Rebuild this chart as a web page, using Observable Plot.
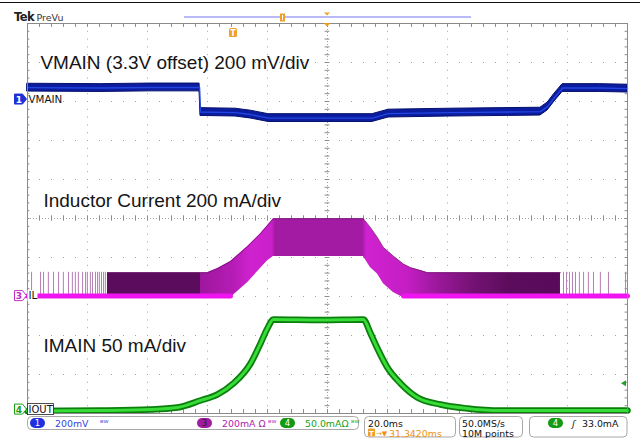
<!DOCTYPE html>
<html><head><meta charset="utf-8">
<script src="https://cdn.jsdelivr.net/npm/d3@7"></script>
<script src="https://cdn.jsdelivr.net/npm/@observablehq/plot@0.6"></script>
<style>
html,body{margin:0;padding:0;background:#fff;}
#wrap{position:relative;width:640px;height:438px;overflow:hidden;}
#wrap svg{position:absolute;left:0;top:0;}
</style></head><body><div id="wrap"></div>
<script>
// ---------------- data ----------------
// time in ms relative to the trigger; horizontal 20 ms/div; trigger → center 31.342 ms
const timePerDiv = 20;
const triggerToCenter = 31.342;

// Ch1 VMAIN (V), 200 mV/div, 3.3 V offset
const vT = [-68.66, -44.3, -27.7, -11.3, -11.0, 0.7, 5.7, 11.7, 46.3, 51.7, 72.3, 102.3, 104.7, 107.0, 109.7, 122.3, 131.34];
const vV = [3.361, 3.359, 3.362, 3.362, 3.236, 3.233, 3.223, 3.205, 3.205, 3.228, 3.233, 3.238, 3.264, 3.310, 3.359, 3.359, 3.356];

// Ch3 inductor current envelope (mA), 200 mA/div
const ilT  = [-42, -11, -8.7, -5.3, -1, 4.7, 9, 11.3, 13.3, 43.3, 45.7, 48, 50, 53.3, 56.7, 59, 62.3, 64.7, 109];
const ilHi = [120, 120, 120, 141, 177, 254, 320, 361, 397, 397, 351, 300, 249, 205, 164, 146, 131, 120, 120];
const ilLo = [-8, -8, -8, -8, -8, 69, 141, 180, 203, 203, 146, 113, 64, 18, -8, -8, -8, -8, -8];
// isolated switching bursts (light spikes) in the pulse-skipping regions
const ilSpikeT = [-67.3, -64.3, -63.3, -61.7, -60, -58.3, -56.7, -55, -53.7, -52.7, -51.7, -50.3, -49.3, -48.7, -47.7, -47, -46, -45.3, -44.7, -44, -43.3, -42.7,
                  110, 111, 112, 113, 114, 115.3, 116.7, 118.3, 120, 122.3, 125, 130.7];
const ilSpikeTop = 122;
// idle baseline segments (mA)
const ilBaseT = [[-68.66, -1], [56.7, 131.34]];
const ilBaseI = 0;

// Ch4 IOUT (mA), 50 mA/div
const ioT = [-68.66, -44.3, -27.7, -18.7, -11, -5.3, 0, 5.7, 9, 11.3, 13.3, 29, 43.3, 45.7, 48, 51.3, 55.7, 61.3, 69, 78, 89, 131.34];
const ioI = [-1.8, -1.2, 0.1, 2.7, 11.7, 19.4, 33.5, 59.1, 84.7, 104, 115.5, 114.9, 115.5, 97.6, 78.3, 54, 33.5, 15.5, 6.5, 1.4, -1.2, -1.2];
const triggerLevel = 33.0; // mA on ch4

const titles = ["VMAIN (3.3V offset) 200 mV/div", "Inductor Current 200 mA/div", "IMAIN 50 mA/div"];
const chLabels = ["VMAIN", "IL", "IOUT"];
const statusCh = [["1", "200mV"], ["3", "200mA Ω"], ["4", "50.0mAΩ"]];
const statusTime = ["20.0ms", "31.3420ms"];
const statusAcq = ["50.0MS/s", "10M points"];
const statusTrig = ["4", "33.0mA"];

// ---------------- channel set-up ----------------
const chan = {
  v:  {pos: 3.05,  perDiv: 0.2, offset: 3.3},
  il: {pos: -1.99, perDiv: 200, offset: 0},
  io: {pos: -4.9,  perDiv: 50,  offset: 0}
};
const toDiv = (c, v) => c.pos + (v - c.offset) / c.perDiv;

const center = triggerToCenter;
const xDomain = [center - 5 * timePerDiv, center + 5 * timePerDiv];
const majorT = d3.range(1, 10).filter(k => k !== 5).map(k => xDomain[0] + k * timePerDiv);
const majorD = [-4, -3, -2, -1, 1, 2, 3, 4];
const minorT = d3.range(0, 51).map(i => xDomain[0] + i * timePerDiv / 5);
const minorD = d3.range(0, 51).map(i => -5 + i * 0.2);

const vData = vT.map((t, i) => ({t, v: vV[i]}));
const ilData = ilT.map((t, i) => ({t, lo: ilLo[i], hi: ilHi[i]}));
const ioData = ioT.map((t, i) => ({t, i: ioI[i]}));
const baseData = ilBaseT.flatMap((seg, k) => seg.map(t => ({t, k, i: ilBaseI})));

const gridC = "#a3a3a3", tickC = "#8c8c8c";
const tickW = 0.8; // ms half length of ticks on vertical lines

const chart = Plot.plot({
  width: 640, height: 438,
  marginLeft: 27, marginRight: 13, marginTop: 23, marginBottom: 25,
  style: {fontFamily: "Liberation Sans", background: "white"},
  x: {domain: xDomain, axis: null},
  y: {domain: [-5, 5], axis: null},
  marks: [
    Plot.ruleX(majorT, {stroke: gridC, strokeDasharray: "1,6.8"}),
    Plot.ruleY(majorD, {stroke: gridC, strokeDasharray: "1,11"}),
    Plot.ruleX([center], {stroke: gridC, strokeDasharray: "1,2"}),
    Plot.ruleY([0], {stroke: gridC, strokeDasharray: "1,2"}),
    Plot.ruleX(minorT, {y1: -0.07, y2: 0.07, stroke: tickC}),
    Plot.ruleY(minorD, {x1: center - tickW, x2: center + tickW, stroke: tickC}),
    Plot.ruleX(minorT, {y1: 5, y2: 4.9, stroke: tickC}),
    Plot.ruleX(minorT, {y1: -5, y2: -4.9, stroke: tickC}),
    Plot.ruleY(minorD, {x1: xDomain[0], x2: xDomain[0] + tickW, stroke: tickC}),
    Plot.ruleY(minorD, {x1: xDomain[1] - tickW, x2: xDomain[1], stroke: tickC}),

    // Ch1 VMAIN
    Plot.areaY(vData, {x: "t", y1: d => toDiv(chan.v, d.v - 0.02), y2: d => toDiv(chan.v, d.v + 0.02),
      fill: "#0b1c9e", stroke: "#04106c", strokeWidth: 1}),
    Plot.line(vData, {x: "t", y: d => toDiv(chan.v, d.v), stroke: "#2246e2", strokeWidth: 1.4}),

    // Ch3 IL
    Plot.ruleX(ilSpikeT, {x: d => d, y1: toDiv(chan.il, 0), y2: toDiv(chan.il, ilSpikeTop), stroke: "#b57db5", strokeWidth: 1}),
    Plot.areaY(ilData, {x: "t", y1: d => toDiv(chan.il, d.lo), y2: d => toDiv(chan.il, d.hi), fill: "url(#ilg)"}),
    Plot.line(ilData, {x: "t", y: d => toDiv(chan.il, d.hi), stroke: "#6e106e", strokeWidth: 1, strokeOpacity: 0.7}),
    Plot.line(baseData, {x: "t", y: d => toDiv(chan.il, d.i), z: "k", stroke: "#f014f0", strokeWidth: 5}),

    // Ch4 IOUT
    Plot.line(ioData, {x: "t", y: d => toDiv(chan.io, d.i), stroke: "#0b7e0b", strokeWidth: 6.5, curve: "monotone-x"}),
    Plot.line(ioData, {x: "t", y: d => toDiv(chan.io, d.i), stroke: "#38dc38", strokeWidth: 3, curve: "monotone-x"}),

    // annotations
    Plot.text([titles[0]], {x: xDomain[0] + 4.3, y: 4.0, text: d => d, textAnchor: "start", lineAnchor: "middle", fontSize: 19, fill: "#151515"}),
    Plot.text([titles[1]], {x: xDomain[0] + 5.3, y: 0.44, text: d => d, textAnchor: "start", lineAnchor: "middle", fontSize: 19, fill: "#151515"}),
    Plot.text([titles[2]], {x: xDomain[0] + 5.3, y: -3.26, text: d => d, textAnchor: "start", lineAnchor: "middle", fontSize: 19, fill: "#151515"}),

    Plot.frame({stroke: "#8a8a8a"})
  ]
});
document.getElementById("wrap").appendChild(chart);

const xs = chart.scale("x"), ys = chart.scale("y");
const X = t => xs.apply(t), Y = d => ys.apply(d);
const sel = d3.select(chart);

// gradient for inductor current persistence
const ilStops = [[-42,"#5c0c5c"],[-11.05,"#5c0c5c"],[-11,"#9e179e"],[0,"#b51cb5"],[6,"#d022d0"],[13,"#c820c8"],[14,"#a31aa3"],[43,"#a31aa3"],[44.5,"#d022d0"],[58,"#c41ec4"],[68,"#9c189c"],[80,"#741274"],[92,"#5c0c5c"],[109,"#5a0a5a"]];
const t0 = ilT[0], t1 = ilT[ilT.length - 1];
const grad = sel.insert("defs", ":first-child").append("linearGradient").attr("id", "ilg")
  .attr("gradientUnits", "userSpaceOnUse").attr("x1", X(t0)).attr("x2", X(t1)).attr("y1", 0).attr("y2", 0);
ilStops.forEach(([t, c]) => grad.append("stop").attr("offset", (t - t0) / (t1 - t0)).attr("stop-color", c));

const ui = sel.append("g").attr("font-family", "DejaVu Sans").attr("text-anchor", "start").attr("font-weight", "normal");
const gRight = X(xDomain[1]), gTop = Y(5);

// top border line and header
ui.append("line").attr("x1", 0).attr("x2", 640).attr("y1", 2.5).attr("y2", 2.5).attr("stroke", "#111").attr("stroke-width", 1.2);
ui.append("text").attr("x", 14).attr("y", 21).attr("font-size", 11.5).attr("font-weight", "bold").attr("letter-spacing", -0.6).attr("fill", "#222").text("Tek");
ui.append("text").attr("x", 36.5).attr("y", 21).attr("font-size", 9.5).attr("fill", "#333").text("PreVu");
ui.append("line").attr("x1", 184).attr("x2", 471).attr("y1", 17).attr("y2", 17).attr("stroke", "#7474f0").attr("stroke-width", 1);
ui.append("rect").attr("x", 280).attr("y", 13.5).attr("width", 5).attr("height", 8).attr("fill", "#f0a028");
ui.append("line").attr("x1", 282.5).attr("x2", 282.5).attr("y1", 15).attr("y2", 20).attr("stroke", "#fff").attr("stroke-width", 1);
ui.append("path").attr("d", `M${X(center)-3},12.5 h6 l-3,3 z`).attr("fill", "#f0a028");
// center marker on top of graticule
ui.append("path").attr("d", `M${X(center)-3.5},${gTop} h7 l-3.5,3.5 z`).attr("fill", "#f09a20");
// trigger marker
ui.append("rect").attr("x", X(0) - 4).attr("y", gTop + 5).attr("width", 8).attr("height", 9).attr("rx", 1.5).attr("fill", "#f0a028");
ui.append("text").attr("x", X(0)).attr("y", gTop + 12.5).attr("text-anchor", "middle").attr("font-size", 8).attr("font-weight", "bold").attr("fill", "#fff").text("T");
// trigger level marker (ch4)
const yTrig = Y(toDiv(chan.io, triggerLevel));
ui.append("path").attr("d", `M${gRight-1},${yTrig-3} v6 l-5,-3 z`).attr("fill", "#20a020");

// channel markers
function marker(ch, num, color, filled) {
  const y = Y(ch.pos);
  ui.append("path").attr("d", `M14.5,${y-5} h8 l4,5 l-4,5 h-8 z`)
    .attr("fill", filled ? color : "#fff").attr("stroke", color).attr("stroke-width", 1);
  ui.append("text").attr("x", 19).attr("y", y + 3.5).attr("text-anchor", "middle").attr("font-size", 9).attr("font-weight", "bold")
    .attr("fill", filled ? "#fff" : color).text(num);
}
marker(chan.v, "1", "#2030d8", true);
marker(chan.il, "3", "#c030c0", false);
marker(chan.io, "4", "#18a018", false);
ui.append("text").attr("x", 28.5).attr("y", Y(chan.v.pos) + 3.8).attr("font-size", 10.3).attr("fill", "#111").text(chLabels[0]);
ui.append("rect").attr("x", 27.5).attr("y", Y(chan.il.pos) - 5.5).attr("width", 10).attr("height", 11).attr("fill", "#fff");
ui.append("text").attr("x", 28.5).attr("y", Y(chan.il.pos) + 3.8).attr("font-size", 10.3).attr("fill", "#111").text(chLabels[1]);
ui.append("rect").attr("x", 27.5).attr("y", Y(chan.io.pos) - 5.5).attr("width", 26).attr("height", 11).attr("fill", "#fff").attr("stroke", "#222").attr("stroke-width", 0.8);
ui.append("text").attr("x", 28.5).attr("y", Y(chan.io.pos) + 3.8).attr("font-size", 10).attr("fill", "#111").text(chLabels[2]);

// status bar
const fs = 9.4;
function box(x, y, w, h) {
  ui.append("rect").attr("x", x).attr("y", y).attr("width", w).attr("height", h).attr("rx", 4).attr("fill", "#fff").attr("stroke", "#a8a8a8").attr("stroke-width", 1);
}
function pill(x, y, color, num) {
  ui.append("rect").attr("x", x).attr("y", y).attr("width", 15).attr("height", 10).attr("rx", 5).attr("fill", color);
  ui.append("text").attr("x", x + 7.5).attr("y", y + 8.3).attr("text-anchor", "middle").attr("font-size", 8.5).attr("fill", num === "3" ? "#222" : "#fff").text(num);
}
box(27.5, 416.5, 331, 13);
const chColors = ["#2030e0", "#a21ca2", "#129a12"];
const txtColors = ["#3344dd", "#b020b0", "#18a018"];
const pillX = [30, 197, 280], txtX = [55, 222, 305];
statusCh.forEach(([n, t], i) => {
  pill(pillX[i], 418, chColors[i], n);
  ui.append("text").attr("x", txtX[i]).attr("y", 427).attr("font-size", fs).attr("fill", txtColors[i]).text(t);
});
[[100, 0], [268, 1], [351, 2]].forEach(([x, i]) => {
  ui.append("text").attr("x", x).attr("y", 426).attr("font-size", 8).attr("fill", txtColors[i]).text("ᴮᵂ");
});
box(364.5, 416.5, 91, 20.5);
ui.append("text").attr("x", 368).attr("y", 427).attr("font-size", fs).attr("fill", "#111").text(statusTime[0]);
ui.append("rect").attr("x", 368).attr("y", 428.5).attr("width", 7).attr("height", 8).attr("rx", 1).attr("fill", "#f0a028");
ui.append("text").attr("x", 371.5).attr("y", 435.5).attr("text-anchor", "middle").attr("font-size", 7).attr("font-weight", "bold").attr("fill", "#fff").text("T");
ui.append("text").attr("x", 376).attr("y", 436).attr("font-size", 7).attr("fill", "#f09010").text("→▼");
ui.append("text").attr("x", 389).attr("y", 436.5).attr("font-size", fs).attr("fill", "#f09010").text(statusTime[1]);
box(459.5, 416.5, 63, 20.5);
ui.append("text").attr("x", 462).attr("y", 427).attr("font-size", fs).attr("fill", "#111").text(statusAcq[0]);
ui.append("text").attr("x", 462).attr("y", 436.5).attr("font-size", fs).attr("fill", "#111").text(statusAcq[1]);
box(529.5, 416.5, 97.5, 20.5);
pill(548, 418, "#129a12", statusTrig[0]);
ui.append("text").attr("x", 572).attr("y", 427).attr("font-size", fs).attr("font-style", "italic").attr("fill", "#111").text("ʃ");
ui.append("text").attr("x", 582).attr("y", 427).attr("font-size", fs).attr("fill", "#111").text(statusTrig[1]);
</script>
</body></html>
